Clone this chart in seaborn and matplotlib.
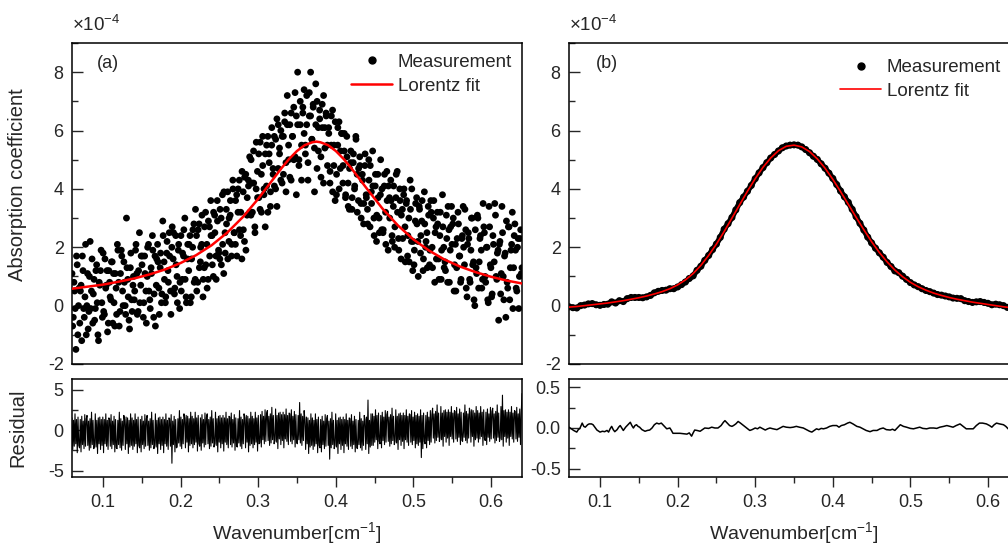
import numpy as np
import pandas as pd
import matplotlib
matplotlib.use("Agg")
import matplotlib.pyplot as plt
from matplotlib.lines import Line2D
from matplotlib.ticker import MultipleLocator
import seaborn as sns

# ---------------- data ----------------
x_min, x_max = 0.06, 0.64

# (a) noisy measurement, first sampling pass (evenly spaced over the range)
meas_a = [
    1.1, -0.4, 0.5, -1.5, 1.4, 0.0,  -0.6, 0.7, 1.7, -0.1, 0.3, -1.0,
    1.1, -0.2, 2.2, 0.5, -0.6, 0.9,  -0.1, 1.4, -1.0, 0.8, 1.2, 0.1,
    1.8, -0.3, 0.6, 1.2, -0.6, 0.8,  0.2, 1.5, 1.1, -0.7, 0.6, 2.1,
    0.8, -0.2, 1.9, 0.5, 1.5, 0.0,   3.0, 0.9, -0.5, 1.3, 0.2, 0.7,
    0.2, 1.9, 1.1, -0.2, 2.5, 0.7,   1.4, -0.4, 1.7, 0.5, 1.0, 2.1,
    0.2, 1.3, 2.4, -0.4, 1.7, 0.7,   2.1, 0.6, 1.3, 0.1, 2.9, 1.5,
    0.1, 1.8, 1.2, 2.5, 0.5, 2.0,    1.6, 0.4, 2.4, 1.0, 1.9, -0.1,
    2.4, 0.9, 1.7, 3.0, 0.3, 1.6,    1.2, 2.4, 0.3, 2.0, 2.8, 0.9,
    2.4, 0.8, 2.8, 1.5, 2.1, 0.3,    1.3, 3.2, 2.1, 0.9, 2.7, 3.6,
    2.4, 1.0, 3.1, 1.7, 3.6, 1.9,    1.6, 3.0, 3.8, 1.1, 2.5, 3.3,
    3.9, 2.2, 3.1, 1.7, 4.3, 2.5,    2.1, 3.8, 3.2, 4.3, 2.4, 1.6,
    3.9, 2.2, 4.5, 3.1, 4.3, 5.1,    3.1, 4.2, 5.3, 2.7, 4.0, 4.6,
    5.2, 3.3, 4.5, 5.8, 3.8, 2.7,    4.1, 5.8, 5.2, 3.4, 5.5, 4.7,
    5.8, 4.0, 6.4, 4.7, 5.4, 4.3,    4.2, 5.8, 6.3, 4.9, 7.2, 5.5,
    6.2, 4.3, 5.8, 6.8, 5.1, 6.5,    8.0, 5.0, 6.2, 4.3, 6.8, 5.9,
    5.5, 7.2, 4.9, 6.5, 8.0, 5.7,    6.8, 3.9, 6.2, 7.0, 5.3, 6.4,
    4.4, 6.1, 7.2, 5.4, 6.5, 4.8,    5.9, 4.6, 6.5, 3.9, 5.5, 6.3,
    4.5, 6.1, 4.0, 5.3, 5.9, 4.8,    5.9, 3.8, 5.1, 3.4, 4.7, 5.3,
    3.7, 5.2, 4.1, 5.7, 3.2, 4.7,    4.8, 3.0, 4.3, 3.5, 5.2, 3.7,
    2.8, 4.3, 4.8, 3.5, 4.1, 2.4,    4.5, 3.1, 3.7, 2.5, 5.0, 4.0,
    2.6, 4.5, 2.1, 3.6, 4.1, 3.0,    3.6, 2.2, 4.1, 2.7, 4.5, 3.2,
    1.9, 3.6, 3.1, 2.3, 4.0, 1.5,    3.6, 2.4, 1.5, 3.3, 4.0, 2.2,
    1.9, 3.5, 2.8, 1.0, 3.3, 2.4,    3.6, 1.6, 2.8, 2.2, 1.3, 3.1,
    1.9, 3.2, 1.3, 3.6, 2.5, 1.6,    2.8, 0.9, 3.2, 1.9, 2.7, 1.3,
    1.2, 2.3, 3.4, 0.8, 2.7, 2.1,    3.0, 1.4, 0.5, 2.3, 2.8, 1.7,
    0.9, 2.4, 2.0, 3.3, 0.6, 2.1,    2.3, 0.8, 3.0, 1.4, 0.2, 2.6,
    1.1, 3.0, 1.5, 2.4, 0.6, 3.5,    2.5, 0.8, 2.0, 0.1, 2.7, 1.3,
    0.4, 2.1, 3.5, 1.0, 1.8, -0.5,   2.2, 1.1, 2.5, 0.2, 1.8, 2.9,
    0.6, 2.7, 1.3, 2.1, -0.1, 2.4,   1.9, 0.5, 2.3, 1.0, 2.6, 1.3,
]

# (a) noisy measurement, second sampling pass (interleaved with the first)
meas_a2 = [
    -0.7, 0.8, -0.1, 1.7, -1.0, 0.6,  0.5, -1.2, 1.2, -0.4, 2.1, 0.0,
    -0.8, 1.0, -0.1, 1.6, 0.4, -0.5,  1.2, 0.1, -1.2, 0.7, 1.9, -0.4,
    -0.2, 1.6, 0.7, -0.9, 1.2, 0.3,   1.5, -0.6, 0.1, 1.1, -0.3, 1.9,
    -0.7, 1.1, 1.7, 0.0, 0.8, -0.3,   1.3, 0.3, -0.8, 1.8, -0.2, 1.0,
    0.5, 2.1, -0.3, 1.2, 0.1, 1.7,    1.7, 0.1, 1.1, -0.6, 2.0, 0.5,
    -0.1, 1.1, 1.9, 0.4, -0.7, 1.6,   1.5, -0.3, 1.8, 0.4, 2.4, 0.9,
    0.3, 2.2, 0.8, 1.7, -0.3, 2.7,    2.5, 0.6, 1.4, 0.1, 2.1, 0.8,
    0.5, 1.8, 2.6, 0.9, 0.1, 2.1,     2.1, 0.1, 1.6, 2.6, 0.8, 3.3,
    0.5, 2.6, 1.3, 2.0, 3.1, 0.9,     2.7, 1.4, 0.6, 2.9, 1.7, 2.4,
    1.4, 3.2, 2.5, 0.9, 2.9, 1.8,     3.3, 1.4, 2.1, 3.9, 1.8, 2.8,
    1.6, 3.0, 3.6, 2.1, 4.0, 2.5,     3.6, 1.7, 4.0, 2.6, 3.2, 4.6,
    2.6, 4.4, 1.9, 3.7, 4.1, 3.2,     5.0, 3.2, 4.2, 2.5, 5.6, 3.7,
    3.7, 5.6, 3.2, 4.8, 4.0, 5.2,     5.5, 3.2, 4.9, 3.9, 6.1, 4.5,
    4.1, 5.7, 3.4, 6.2, 5.2, 6.0,     5.8, 4.5, 6.6, 3.9, 6.2, 5.0,
    4.4, 6.6, 5.8, 5.0, 7.3, 3.8,     6.2, 4.8, 7.0, 5.5, 6.6, 7.4,
    5.2, 6.2, 4.3, 7.3, 6.5, 5.7,     6.9, 5.4, 7.6, 4.7, 6.1, 6.7,
    5.1, 6.9, 4.2, 6.1, 6.6, 5.5,     6.1, 4.2, 5.5, 6.7, 4.8, 3.6,
    3.8, 5.5, 6.3, 4.7, 5.9, 4.2,     5.3, 3.7, 5.8, 4.2, 3.3, 4.9,
    3.3, 4.9, 4.0, 5.8, 4.5, 3.6,     5.1, 3.5, 4.5, 2.8, 4.8, 3.8,
    3.3, 5.0, 2.7, 3.9, 5.3, 3.0,     4.1, 2.2, 4.5, 3.0, 3.8, 2.6,
    2.5, 4.1, 3.2, 4.6, 1.9, 3.7,     4.3, 2.4, 3.4, 2.0, 3.7, 4.6,
    2.3, 4.0, 1.6, 3.3, 3.8, 2.7,     3.5, 1.7, 3.0, 4.3, 2.2, 1.2,
    1.4, 2.9, 3.7, 2.2, 3.4, 1.8,     2.9, 1.2, 3.9, 2.0, 2.5, 3.4,
    1.4, 3.6, 2.0, 3.0, 0.8, 2.7,     3.2, 1.6, 2.4, 0.9, 3.8, 2.0,
    1.5, 3.1, 0.8, 2.6, 1.9, 3.4,     2.8, 0.5, 2.1, 1.3, 3.2, 1.7,
    0.8, 2.3, 3.4, 1.4, 2.6, 0.3,     2.5, 0.9, 1.9, 3.0, 1.5, 0.0,
    1.3, 3.1, 0.6, 2.3, 1.9, 0.9,     2.7, 1.0, 2.0, 0.2, 3.4, 1.4,
    0.3, 2.4, 1.5, 3.1, 0.9, 1.9,     2.1, 0.4, 3.4, 1.0, 1.7, -0.4,
    0.8, 2.7, 0.2, 1.9, 3.2, 1.3,     2.8, 0.6, 2.0, -0.1, 2.3, 1.1,
]

# (a) Lorentz fit curve, read at these wavenumbers
fit_a_x = [0.06, 0.08, 0.10, 0.12, 0.14, 0.16, 0.18, 0.20, 0.22, 0.24, 0.26,
           0.28, 0.30, 0.32, 0.33, 0.34, 0.35, 0.36, 0.37, 0.375, 0.38, 0.39,
           0.40, 0.41, 0.42, 0.44, 0.46, 0.48, 0.50, 0.52, 0.54, 0.56, 0.58,
           0.60, 0.62, 0.64]
fit_a_y = [0.58, 0.65, 0.72, 0.82, 0.93, 1.07, 1.24, 1.46, 1.73, 2.07, 2.50,
           3.03, 3.66, 4.36, 4.71, 5.03, 5.30, 5.50, 5.60, 5.62, 5.60, 5.50,
           5.30, 5.03, 4.71, 4.01, 3.33, 2.75, 2.27, 1.89, 1.58, 1.34, 1.15,
           0.99, 0.86, 0.76]

# (a) residual, evenly sampled over the wavenumber range
resid_a = [
    1.5, -2.4, 1.2, -2.0, 2.0, -1.7, 1.3, -2.8, 1.6, -1.9,
    -2.2, 1.3, -2.7, 1.7, -1.8, 1.1, -2.3, 1.9, -2.0, 1.4,
    1.8, -1.9, 1.1, -2.5, 1.4, -2.2, 2.2, -1.8, 1.2, -2.3,
    -1.9, 2.0, -2.1, 1.2, -2.9, 1.5, -1.7, 1.6, -2.4, 1.3,
    -1.9, 1.6, -2.8, 1.3, -1.7, 2.0, -2.0, 1.2, -2.4, 1.5,
    1.4, -2.0, 1.9, -2.3, 1.1, -1.8, 1.7, -2.7, 1.3, -2.2,
    -2.3, 1.2, -1.8, 2.2, -2.2, 1.4, -2.5, 1.1, -1.9, 1.8,
    1.3, -2.4, 1.6, -1.7, 1.5, -2.9, 1.2, -2.1, 2.0, -1.9,
    1.5, -2.4, 1.2, -2.0, 2.0, -1.7, 1.3, -2.8, 1.6, -1.9,
    -2.2, 1.3, -2.7, 1.7, -1.8, 1.1, -2.3, 1.9, -2.0, 1.4,
    1.8, -1.9, 1.1, -2.5, 1.4, -2.2, 2.2, -1.8, 1.2, -2.3,
    -1.9, 2.0, -2.1, 1.2, -2.9, 1.5, -1.7, 1.6, -2.4, 1.3,
    -1.9, 1.6, -2.8, 1.3, -1.7, 2.0, -2.0, 1.2, -2.4, 1.5,
    1.4, -2.0, 1.9, -4.1, 1.1, -1.8, 1.7, -2.7, 1.3, -2.2,
    -2.1, 1.4, -1.6, 2.4, -2.0, 1.6, -2.3, 1.3, -1.7, 2.0,
    1.5, -2.2, 1.8, -1.5, 1.7, -2.7, 1.4, -1.9, 2.2, -1.7,
    1.7, -2.2, 1.4, -1.8, 2.2, -1.5, 1.5, -2.6, 1.8, -1.7,
    -2.0, 1.5, -2.5, 1.9, -1.6, 1.3, -2.1, 2.1, -1.8, 1.6,
    2.0, -1.7, 1.3, -2.3, 1.6, -2.0, 2.4, -1.6, 1.4, -2.1,
    -1.7, 2.2, -1.9, 1.4, -2.7, 1.7, -1.5, 1.8, -2.2, 1.5,
    -1.7, 1.8, -2.6, 1.5, -1.5, 2.2, -1.8, 1.4, -2.2, 1.7,
    1.6, -1.8, 2.1, -2.1, 1.3, -1.6, 1.9, -2.5, 1.5, -2.0,
    -2.1, 1.4, -1.6, 2.4, -2.0, 1.6, -2.3, 1.3, -1.7, 2.0,
    1.5, -2.2, 1.8, -1.5, 1.7, -2.7, 1.4, -1.9, 2.2, -1.7,
    1.7, -2.2, 1.4, -1.8, 2.2, -1.5, 1.5, -2.6, 1.8, -1.7,
    -1.6, 1.9, -2.1, 2.3, -1.2, 1.7, -1.7, 2.5, -1.4, 2.0,
    2.4, -1.3, 1.7, -1.9, 2.0, -1.6, 2.8, -1.2, 1.8, -1.7,
    -1.3, 2.6, -1.5, 1.8, -2.3, 2.1, -1.1, 2.2, -1.8, 1.9,
    -1.3, 2.2, -2.2, 1.9, -1.1, 2.6, -1.4, 1.8, -1.8, 2.1,
    2.0, -1.4, 2.5, -1.7, 1.7, -1.2, 2.3, -2.1, 1.9, -1.6,
    -1.7, 1.8, -1.2, 3.4, -1.6, 2.0, -1.9, 1.7, -1.3, 2.4,
    1.3, -2.4, 1.6, -1.7, 1.5, -2.9, 1.2, -2.1, 2.0, -1.9,
    1.5, -2.4, 1.2, -2.0, 2.0, -1.7, 1.3, -2.8, 1.6, -1.9,
    -2.2, 1.3, -2.7, 1.7, -1.8, 1.1, -2.3, 1.9, -2.0, 1.4,
    1.8, -1.9, 1.1, -3.6, 1.4, -2.2, 2.2, -1.8, 1.2, -2.3,
    -1.9, 2.0, -2.1, 1.2, -2.9, 1.5, -1.7, 1.6, -2.4, 1.3,
    -1.9, 1.6, -2.8, 1.3, -1.7, 2.0, -2.0, 1.2, -2.4, 1.5,
    1.4, -2.0, 1.9, -2.3, 1.1, -1.8, 1.7, -2.7, 1.3, -2.2,
    -2.3, 1.2, -1.8, 2.2, -2.2, 1.4, -2.5, 1.1, -1.9, 1.8,
    1.3, -2.4, 1.6, -1.7, 3.7, -2.9, 1.2, -2.1, 2.0, -1.9,
    2.0, -1.9, 1.7, -1.5, 2.5, -1.2, 1.8, -2.3, 2.1, -1.4,
    -1.7, 1.8, -2.2, 2.2, -1.3, 1.6, -1.8, 2.4, -1.5, 1.9,
    2.3, -1.4, 1.6, -2.0, 1.9, -1.7, 2.7, -1.3, 1.7, -1.8,
    -1.4, 2.5, -1.6, 1.7, -2.4, 2.0, -1.2, 2.1, -1.9, 1.8,
    -1.4, 2.1, -2.3, 1.8, -1.2, 2.5, -1.5, 1.7, -1.9, 2.0,
    1.9, -1.5, 2.4, -1.8, 1.6, -1.3, 2.2, -2.2, 1.8, -1.7,
    2.0, -1.9, 1.7, -1.5, 2.5, -3.4, 1.8, -2.3, 2.1, -1.4,
    -1.7, 1.8, -2.2, 2.2, -1.3, 1.6, -1.8, 2.4, -1.5, 1.9,
    2.7, -1.0, 2.0, -1.6, 2.3, -1.3, 3.1, -0.9, 2.1, -1.4,
    -1.0, 2.9, -1.2, 2.1, -2.0, 2.4, -0.8, 2.5, -1.5, 2.2,
    -1.0, 2.5, -1.9, 2.2, -0.8, 2.9, -1.1, 2.1, -1.5, 2.4,
    2.3, -1.1, 2.8, -1.4, 2.0, -0.9, 2.6, -1.8, 2.2, -1.3,
    -1.4, 2.1, -0.9, 3.1, -1.3, 2.3, -1.6, 2.0, -1.0, 2.7,
    2.2, -1.5, 2.5, -0.8, 2.4, -2.0, 2.1, -1.2, 2.9, -1.0,
    2.4, -1.5, 2.1, -1.1, 2.9, -0.8, 2.2, -1.9, 2.5, -1.0,
    -1.3, 2.2, -1.8, 2.6, -0.9, 2.0, -1.4, 2.8, -1.1, 2.3,
    2.7, -1.0, 2.0, -1.6, 2.3, -1.3, 3.1, -0.9, 2.1, -1.4,
    -1.0, 2.9, -1.2, 4.3, -2.0, 2.4, -0.8, 2.5, -1.5, 2.2,
    -1.0, 2.5, -1.9, 2.2, -0.8, 2.9, -1.1, 2.1, -1.5, 2.4,
    2.3, -1.1, 2.8, -1.4, 2.0, -0.9, 2.6, -1.8, 2.2, 4.5,
]

# (b) clean measurement, sampled every 0.005 cm^-1 from 0.06 to 0.64
meas_b = [
    -0.04, -0.07, -0.08, 0.00, 0.02, 0.06, 0.07, 0.03, 0.01, 0.04,
    0.05, 0.13, 0.09, 0.17, 0.14, 0.24, 0.28, 0.28, 0.28, 0.27,
    0.30, 0.35, 0.44, 0.49, 0.52, 0.53, 0.58, 0.58, 0.64, 0.72,
    0.81, 0.93, 1.02, 1.21, 1.35, 1.55, 1.72, 1.92, 2.11, 2.34,
    2.62, 2.81, 3.02, 3.28, 3.53, 3.72, 3.92, 4.12, 4.35, 4.55,
    4.73, 4.90, 5.06, 5.18, 5.30, 5.41, 5.47, 5.50, 5.51, 5.50,
    5.44, 5.35, 5.24, 5.12, 5.01, 4.86, 4.71, 4.54, 4.36, 4.15,
    3.93, 3.73, 3.54, 3.30, 3.05, 2.82, 2.59, 2.35, 2.15, 1.97,
    1.81, 1.66, 1.48, 1.34, 1.19, 1.13, 1.01, 0.90, 0.79, 0.71,
    0.65, 0.58, 0.52, 0.48, 0.43, 0.38, 0.36, 0.33, 0.30, 0.26,
    0.25, 0.24, 0.17, 0.14, 0.11, 0.13, 0.14, 0.11, 0.08, 0.03,
    0.05, 0.03, 0.00, -0.06, -0.10, -0.10, -0.10,
]

# (b) Lorentz fit, sampled every 0.01 cm^-1 from 0.06 to 0.64
fit_b = [
    -0.05, -0.03, 0.00, 0.03, 0.06, 0.09, 0.13, 0.17, 0.22, 0.27,
    0.33, 0.40, 0.48, 0.58, 0.71, 0.88, 1.10, 1.38, 1.72, 2.11,
    2.54, 3.00, 3.46, 3.92, 4.35, 4.74, 5.06, 5.31, 5.46, 5.50,
    5.44, 5.28, 5.03, 4.71, 4.33, 3.91, 3.47, 3.03, 2.60, 2.19,
    1.82, 1.50, 1.22, 0.99, 0.80, 0.65, 0.53, 0.43, 0.35, 0.28,
    0.22, 0.17, 0.12, 0.08, 0.04, 0.00, -0.04, -0.07, -0.10,
]

# (b) residual
resid_b_x = [
    0.060, 0.063, 0.066, 0.070, 0.072, 0.074, 0.077, 0.079, 0.081, 0.084,
    0.086, 0.089, 0.091, 0.094, 0.096, 0.100, 0.103, 0.106, 0.109, 0.111,
    0.113, 0.115, 0.117, 0.119, 0.122, 0.124, 0.126, 0.128, 0.130, 0.133,
    0.136, 0.139, 0.141, 0.143, 0.145, 0.147, 0.149, 0.151, 0.154, 0.158,
    0.161, 0.164, 0.167, 0.170, 0.173, 0.176, 0.179, 0.182, 0.186, 0.190,
    0.192, 0.194, 0.198, 0.203, 0.207, 0.212, 0.215, 0.218, 0.220, 0.222,
    0.225, 0.229, 0.232, 0.235, 0.240, 0.244, 0.248, 0.252, 0.256, 0.259,
    0.261, 0.264, 0.267, 0.270, 0.272, 0.275, 0.278, 0.281, 0.285, 0.289,
    0.293, 0.296, 0.300, 0.303, 0.306, 0.310, 0.313, 0.316, 0.319, 0.323,
    0.328, 0.332, 0.336, 0.340, 0.345, 0.349, 0.353, 0.357, 0.362, 0.366,
    0.370, 0.373, 0.376, 0.379, 0.382, 0.385, 0.388, 0.392, 0.396, 0.400,
    0.405, 0.408, 0.411, 0.415, 0.419, 0.422, 0.426, 0.431, 0.435, 0.439,
    0.443, 0.448, 0.452, 0.457, 0.461, 0.465, 0.469, 0.474, 0.477, 0.480,
    0.484, 0.487, 0.491, 0.495, 0.500, 0.504, 0.508, 0.512, 0.516, 0.521,
    0.525, 0.530, 0.534, 0.538, 0.543, 0.547, 0.551, 0.555, 0.559, 0.564,
    0.568, 0.572, 0.576, 0.581, 0.585, 0.589, 0.593, 0.598, 0.602, 0.605,
    0.608, 0.611, 0.615, 0.620, 0.623, 0.626, 0.630, 0.635, 0.640,
]
resid_b_y = [
    0.01, -0.01, -0.03, -0.05, -0.02, -0.005, 0.06, 0.02, 0.01, 0.04,
    0.05, 0.05, 0.04, 0.00, -0.025, -0.05, -0.04, -0.045, -0.03, -0.05,
    -0.01, 0.02, -0.02, -0.045, -0.02, 0.01, 0.03, 0.00, -0.03, 0.01,
    0.04, 0.07, 0.03, 0.00, 0.03, 0.04, 0.02, 0.01, -0.02, -0.04,
    -0.03, -0.025, 0.00, 0.04, 0.06, 0.05, 0.06, 0.03, -0.01, 0.00,
    -0.03, -0.065, -0.065, -0.065, -0.07, -0.075, -0.06, -0.10, -0.06, -0.025,
    -0.03, -0.04, -0.02, 0.00, -0.005, 0.01, 0.00, 0.00, 0.03, 0.07,
    0.09, 0.06, 0.03, 0.02, 0.03, 0.05, 0.08, 0.06, 0.03, 0.00,
    -0.03, -0.02, 0.00, -0.01, 0.01, -0.01, -0.025, -0.01, 0.00, -0.01,
    -0.02, 0.00, 0.02, 0.01, 0.005, 0.01, 0.02, 0.01, 0.00, -0.02,
    -0.04, -0.05, -0.03, -0.01, -0.02, -0.005, -0.01, 0.00, 0.02, 0.03,
    0.03, 0.01, 0.03, 0.04, 0.06, 0.07, 0.05, 0.02, 0.01, -0.01,
    -0.03, -0.045, -0.03, -0.03, -0.01, 0.00, -0.02, -0.025, -0.015, -0.03,
    0.01, 0.04, 0.02, 0.01, -0.005, -0.01, 0.00, 0.01, -0.005, -0.01,
    0.00, 0.00, -0.005, 0.01, 0.02, 0.03, 0.02, 0.01, 0.03, 0.05,
    0.02, -0.01, -0.01, -0.01, 0.03, 0.06, 0.06, 0.05, 0.03, 0.01,
    0.04, 0.06, 0.05, 0.04, 0.02, -0.01, -0.03, -0.02, 0.00,
]

x_ticks = [0.1, 0.2, 0.3, 0.4, 0.5, 0.6]
legend_labels = ["Measurement", "Lorentz fit"]
panel_labels = ["(a)", "(b)"]

# ---------------- styling ----------------
sns.set_theme(style="ticks")
plt.rcParams["font.family"] = ["Liberation Sans", "DejaVu Sans"]
plt.rcParams["axes.unicode_minus"] = False
plt.rcParams["mathtext.fontset"] = "custom"
plt.rcParams["mathtext.rm"] = "Liberation Sans"
plt.rcParams["mathtext.it"] = "Liberation Sans"

W, H = 1008, 544
fig = plt.figure(figsize=(W / 100, H / 100), dpi=100)


def box(left, top, width, height):
    return [left / W, (H - top - height) / H, width / W, height / H]


axA = fig.add_axes(box(72, 43, 450, 321))
axRA = fig.add_axes(box(72, 379, 450, 98))
axB = fig.add_axes(box(569, 43, 450, 321))
axRB = fig.add_axes(box(569, 379, 450, 98))

# data frames
step1 = (x_max - x_min) / (len(meas_a) - 1)
xa = np.linspace(x_min, x_max, len(meas_a))
xa2 = np.linspace(x_min + step1 / 2, x_max - step1 / 2, len(meas_a2))
df_meas_a = pd.DataFrame({"x": np.concatenate([xa, xa2]),
                          "y": list(meas_a) + list(meas_a2)})
df_fit_a = pd.DataFrame({"x": fit_a_x, "y": fit_a_y})
xra = np.linspace(x_min, x_max, len(resid_a))
df_res_a = pd.DataFrame({"x": xra, "y": resid_a})
xb = np.linspace(x_min, x_max, len(meas_b))
df_meas_b = pd.DataFrame({"x": xb, "y": meas_b})
xfb = np.linspace(x_min, x_max, len(fit_b))
df_fit_b = pd.DataFrame({"x": xfb, "y": fit_b})
df_res_b = pd.DataFrame({"x": resid_b_x, "y": resid_b_y})

# ---- panel (a)
sns.scatterplot(data=df_meas_a, x="x", y="y", ax=axA, color="black", s=24,
                edgecolor="none", legend=False, zorder=2)
sns.lineplot(data=df_fit_a, x="x", y="y", ax=axA, color="#ff0000", lw=1.8,
             estimator=None, sort=False, zorder=3)
sns.lineplot(data=df_res_a, x="x", y="y", ax=axRA, color="black", lw=0.8,
             estimator=None, sort=False)

# ---- panel (b)
sns.lineplot(data=df_meas_b, x="x", y="y", ax=axB, color="black", lw=4.0,
             estimator=None, sort=False, zorder=1)
sns.scatterplot(data=df_meas_b, x="x", y="y", ax=axB, color="black", s=26,
                edgecolor="none", legend=False, zorder=2)
sns.lineplot(data=df_fit_b, x="x", y="y", ax=axB, color="#ff0000", lw=1.2,
             estimator=None, sort=False, zorder=3)
sns.lineplot(data=df_res_b, x="x", y="y", ax=axRB, color="black", lw=1.1,
             estimator=None, sort=False)

tick_fs = 13
for ax in (axA, axB):
    ax.set_xlim(x_min, x_max)
    ax.set_ylim(-2, 9)
    ax.yaxis.set_major_locator(MultipleLocator(2))
    ax.yaxis.set_minor_locator(MultipleLocator(1))
    ax.set_xticks([])
    ax.tick_params(axis="y", which="major", direction="in", length=8, width=1,
                   labelsize=tick_fs, pad=6)
    ax.tick_params(axis="y", which="minor", direction="in", length=4.5, width=1)
    ax.set_xlabel("")
    ax.set_ylabel("")
    ax.text(0.0, 1.025, r"$\times$10$^{-4}$", transform=ax.transAxes,
            fontsize=13.5, ha="left", va="bottom")

for ax in (axRA, axRB):
    ax.set_xlim(x_min, x_max)
    ax.set_xticks(x_ticks)
    ax.set_xticklabels([f"{t:.1f}" for t in x_ticks])
    ax.xaxis.set_minor_locator(MultipleLocator(0.05))
    ax.tick_params(axis="x", which="major", direction="out", length=7, width=1,
                   labelsize=tick_fs, pad=5)
    ax.tick_params(axis="x", which="minor", direction="out", length=4, width=1)
    ax.tick_params(axis="y", which="major", direction="in", length=8, width=1,
                   labelsize=tick_fs, pad=6)
    ax.tick_params(axis="y", which="minor", direction="in", length=4.5, width=1)
    ax.set_ylabel("")
    ax.set_xlabel("Wavenumber[cm$^{-1}$]", fontsize=14)
    ax.xaxis.set_label_coords(0.5, -0.44)
    ax.xaxis.label.set_va("top")

axRA.set_ylim(-5.8, 6.3)
axRA.set_yticks([-5, 0, 5])
axRA.set_yticklabels(["-5", "0", "5"])
axRA.yaxis.set_minor_locator(MultipleLocator(2.5))

axRB.set_ylim(-0.6, 0.6)
axRB.set_yticks([-0.5, 0.0, 0.5])
axRB.set_yticklabels(["-0.5", "0.0", "0.5"])
axRB.yaxis.set_minor_locator(MultipleLocator(0.25))

for ax in (axA, axB, axRA, axRB):
    for sp in ax.spines.values():
        sp.set_visible(True)
        sp.set_linewidth(1.1)
        sp.set_color("black")

axA.set_ylabel("Absorption coefficient", fontsize=14.5)
axA.yaxis.set_label_coords(-0.10, 0.56)
axRA.set_ylabel("Residual", fontsize=14.5)
axRA.yaxis.set_label_coords(-0.10, 0.5)

axA.text(0.055, 0.935, panel_labels[0], transform=axA.transAxes, fontsize=13,
         ha="left", va="center")
axB.text(0.06, 0.935, panel_labels[1], transform=axB.transAxes, fontsize=13,
         ha="left", va="center")


def handles(lw):
    return [
        Line2D([], [], marker="o", color="black", linestyle="none", markersize=5),
        Line2D([], [], color="#ff0000", lw=lw),
    ]


axA.legend(handles(1.8), legend_labels, loc="upper right", frameon=False,
           fontsize=13.5, handlelength=2.2, handletextpad=0.3, labelspacing=0.35,
           borderaxespad=0.0, borderpad=0.0, bbox_to_anchor=(0.978, 0.966))
axB.legend(handles(1.2), legend_labels, loc="upper right", frameon=False,
           fontsize=13.5, handlelength=2.2, handletextpad=0.3, labelspacing=0.35,
           borderaxespad=0.0, borderpad=0.0, bbox_to_anchor=(0.96, 0.95))

fig.savefig("out.png", dpi=100)
